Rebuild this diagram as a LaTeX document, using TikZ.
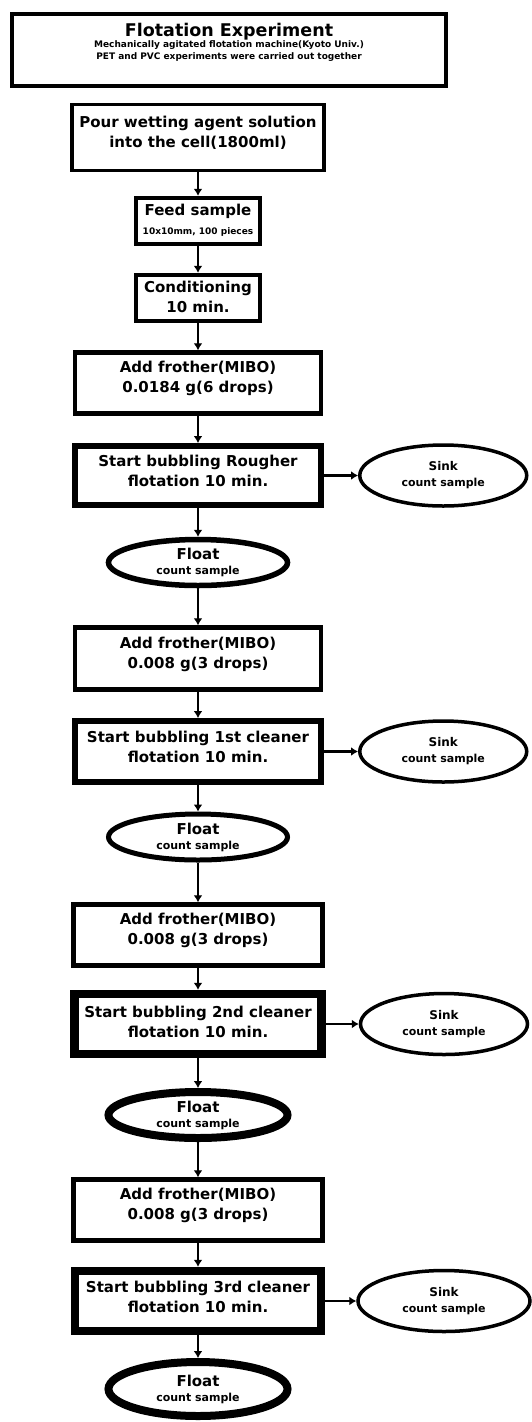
\documentclass[tikz,border=0pt]{standalone}
\usepackage{fontspec}
\setmainfont{DejaVu Sans}
\usetikzlibrary{shapes.geometric, arrows.meta, positioning}

\newcommand{\bigtxt}[1]{{\fontsize{15}{18}\selectfont #1}}
\newcommand{\subtxt}[1]{{\fontsize{11}{13}\selectfont #1}}

\tikzset{
  procbox/.style={rectangle, draw=black, line width=4.5pt, align=center,
    inner sep=0pt, minimum width=246pt, minimum height=61pt, text depth=12pt,
    font=\bfseries\fontsize{15}{20}\selectfont},
  bubblebox/.style={procbox, line width=#1, text depth=9pt},
  sinkoval/.style={ellipse, draw=black, line width=3.5pt, align=center,
    inner sep=0pt, minimum width=167pt, minimum height=61pt, font=\bfseries},
  floatoval/.style={ellipse, draw=black, line width=#1, align=center,
    inner sep=0pt, minimum width=179pt, minimum height=46pt, font=\bfseries},
  flowline/.style={line width=2.5pt, -{Latex[length=7pt,width=9pt]}}
}

\begin{document}
\begin{tikzpicture}[x=1pt, y=-1pt]
\useasboundingbox (0,0) rectangle (531,1422);

% Heading
\node[rectangle, draw=black, line width=4pt, minimum width=434pt,
      minimum height=72pt] (title) at (229,50) {};
\node[align=center, font=\bfseries, inner sep=0pt] (titletext) at (229,42)
  {{\fontsize{17.5}{19}\selectfont Flotation Experiment}\\[-1pt]
   {\fontsize{9}{10}\selectfont Mechanically agitated flotation machine(Kyoto Univ.)}\\
   {\fontsize{9}{10}\selectfont PET and PVC experiments were carried out together}};

% Preparation
\node[procbox, line width=3.5pt, minimum width=252pt, minimum height=66pt,
      text depth=11pt] (pour) at (198,137.5)
  {Pour wetting agent solution\\into the cell(1800ml)};
\node[procbox, minimum width=124pt, minimum height=46pt, text depth=4pt] (feed) at (198,221)
  {Feed sample\\[-1pt]{\fontsize{9}{10}\selectfont 10x10mm, 100 pieces}};
\node[procbox, minimum width=124pt, minimum height=46pt, text depth=3pt] (cond) at (198,298)
  {Conditioning\\10 min.};

% Rougher
\node[procbox] (add1) at (198,383) {Add frother(MIBO)\\0.0184 g(6 drops)};
\node[bubblebox=6pt, minimum height=59pt] (rough) at (198,475.5)
  {Start bubbling Rougher\\flotation 10 min.};
\node[sinkoval, right=34pt of rough] (sink1)
  {\fontsize{12}{14}\selectfont Sink\\[4pt]\subtxt{count sample}};
\node[floatoval=5.5pt] (float1) at (198,562.5)
  {\bigtxt{Float}\\[3pt]\subtxt{count sample}};

% 1st cleaner
\node[procbox, minimum height=62pt] (add2) at (198,658.5) {Add frother(MIBO)\\0.008 g(3 drops)};
\node[bubblebox=6pt, minimum height=61pt] (clean1) at (198,751.5)
  {Start bubbling 1st cleaner\\flotation 10 min.};
\node[sinkoval, right=34pt of clean1] (sink2)
  {\fontsize{12}{14}\selectfont Sink\\[4pt]\subtxt{count sample}};
\node[floatoval=5pt] (float2) at (198,837)
  {\bigtxt{Float}\\[3pt]\subtxt{count sample}};

% 2nd cleaner
\node[procbox, minimum width=249pt] (add3) at (198,935) {Add frother(MIBO)\\0.008 g(3 drops)};
\node[bubblebox=8.5pt, minimum width=247pt, minimum height=60pt, text depth=5pt] (clean2) at (198,1024)
  {Start bubbling 2nd cleaner\\flotation 10 min.};
\node[sinkoval, right=33pt of clean2] (sink3)
  {\fontsize{12}{14}\selectfont Sink\\[4pt]\subtxt{count sample}};
\node[floatoval=8pt, minimum height=46pt] (float3) at (198,1115)
  {\bigtxt{Float}\\[3pt]\subtxt{count sample}};

% 3rd cleaner
\node[procbox, minimum width=249pt] (add4) at (198,1210) {Add frother(MIBO)\\0.008 g(3 drops)};
\node[bubblebox=8.5pt, minimum width=246pt, minimum height=60pt] (clean3) at (198,1301)
  {Start bubbling 3rd cleaner\\flotation 10 min.};
\node[sinkoval, right=31pt of clean3, minimum width=172pt] (sink4)
  {\fontsize{12}{14}\selectfont Sink\\[4pt]\subtxt{count sample}};
\node[floatoval=8pt, minimum height=54pt] (float4) at (198,1389)
  {\bigtxt{Float}\\[3pt]\subtxt{count sample}};

% Arrows
\draw[flowline] (pour) -- (feed);
\draw[flowline] (feed) -- (cond);
\draw[flowline] (cond) -- (add1);
\draw[flowline] (add1) -- (rough);
\draw[flowline] (rough) -- (sink1);
\draw[flowline] (rough) -- (float1);
\draw[flowline] (float1) -- (add2);
\draw[flowline] (add2) -- (clean1);
\draw[flowline] (clean1) -- (sink2);
\draw[flowline] (clean1) -- (float2);
\draw[flowline] (float2) -- (add3);
\draw[flowline] (add3) -- (clean2);
\draw[flowline] (clean2) -- (sink3);
\draw[flowline] (clean2) -- (float3);
\draw[flowline] (float3) -- (add4);
\draw[flowline] (add4) -- (clean3);
\draw[flowline] (clean3) -- (sink4);
\draw[flowline] (clean3) -- (float4);

\end{tikzpicture}
\end{document}
